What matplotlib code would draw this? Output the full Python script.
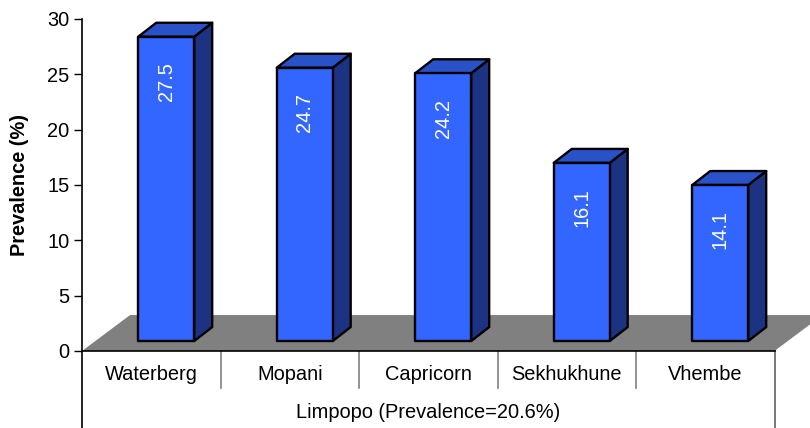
import matplotlib.pyplot as plt
from matplotlib.patches import Polygon

plt.rcParams['font.family'] = ['Liberation Sans', 'DejaVu Sans']

districts = ["Waterberg", "Mopani", "Capricorn", "Sekhukhune", "Vhembe"]
prevalence = [27.5, 24.7, 24.2, 16.1, 14.1]
group_label = "Limpopo (Prevalence=20.6%)"
y_ticks = [0, 5, 10, 15, 20, 25, 30]

front_col = "#3366FF"
side_col = "#1C3384"
top_col = "#2A52C8"
floor_col = "#808080"
fs = 14.4

# pseudo-3D geometry in data units
floor_dx, floor_dy = 0.347, 3.25     # depth of the floor
bar_shift, bar_base = 0.108, 0.9     # bar front face position
bar_w = 0.404
depth_dx, depth_dy = 0.13, 1.26      # depth of each bar

fig = plt.figure(figsize=(8.1, 4.28), dpi=100)
ax = fig.add_axes([82 / 810, 77 / 428, 692.5 / 810, 332 / 428])
n = len(districts)
ax.set_xlim(-0.5, n - 0.5)
ax.set_ylim(0, 30)

# floor
floor = Polygon([(-0.5, 0), (n - 0.5, 0), (n - 0.5 + floor_dx, floor_dy),
                 (-0.5 + floor_dx, floor_dy)],
                closed=True, facecolor=floor_col, edgecolor="none",
                clip_on=False, zorder=1)
ax.add_patch(floor)

for i, v in enumerate(prevalence):
    x0 = i + bar_shift - bar_w / 2
    x1 = x0 + bar_w
    y0 = bar_base
    y1 = bar_base + v
    kw = dict(closed=True, edgecolor="black", linewidth=1.7,
              joinstyle="round", clip_on=False, zorder=3)
    ax.add_patch(Polygon([(x1, y0), (x1 + depth_dx, y0 + depth_dy),
                          (x1 + depth_dx, y1 + depth_dy), (x1, y1)],
                         facecolor=side_col, **kw))
    ax.add_patch(Polygon([(x0, y1), (x1, y1), (x1 + depth_dx, y1 + depth_dy),
                          (x0 + depth_dx, y1 + depth_dy)],
                         facecolor=top_col, **kw))
    ax.add_patch(Polygon([(x0, y0), (x1, y0), (x1, y1), (x0, y1)],
                         facecolor=front_col, **kw))
    ax.text(i + bar_shift, y1 - 2.3, f"{v:.1f}", rotation=90,
            ha="center", va="top", color="white", fontsize=fs, zorder=4)

# axes styling
for s in ["top", "right"]:
    ax.spines[s].set_visible(False)
ax.spines["left"].set_linewidth(1.2)
ax.spines["bottom"].set_linewidth(1.2)
ax.spines["bottom"].set_zorder(2)
ax.set_yticks(y_ticks)
ax.tick_params(axis="y", labelsize=fs, length=6, width=1, pad=3)
ax.set_xticks([])
ax.patch.set_visible(False)

# category table below the axis
xt = ax.get_xaxis_transform()
for i, name in enumerate(districts):
    ax.text(i, -0.072, name, transform=xt, ha="center", va="center",
            fontsize=fs)
for i in range(1, n):
    ax.plot([i - 0.5, i - 0.5], [0, -0.111], transform=xt, color="#808080",
            linewidth=1.2, clip_on=False)
ax.plot([-0.5, -0.5], [0, -0.24], transform=xt, color="black",
        linewidth=1.2, clip_on=False)
ax.plot([n - 0.5, n - 0.5], [0, -0.24], transform=xt, color="#606060",
        linewidth=1.2, clip_on=False)
ax.text((n - 1) / 2, -0.184, group_label, transform=xt, ha="center",
        va="center", fontsize=fs)

fig.text(20 / 810, 1 - 185 / 428, "Prevalence (%)", rotation=90,
         ha="center", va="center", fontsize=fs, fontweight="bold")

fig.savefig("out.png", dpi=100)
